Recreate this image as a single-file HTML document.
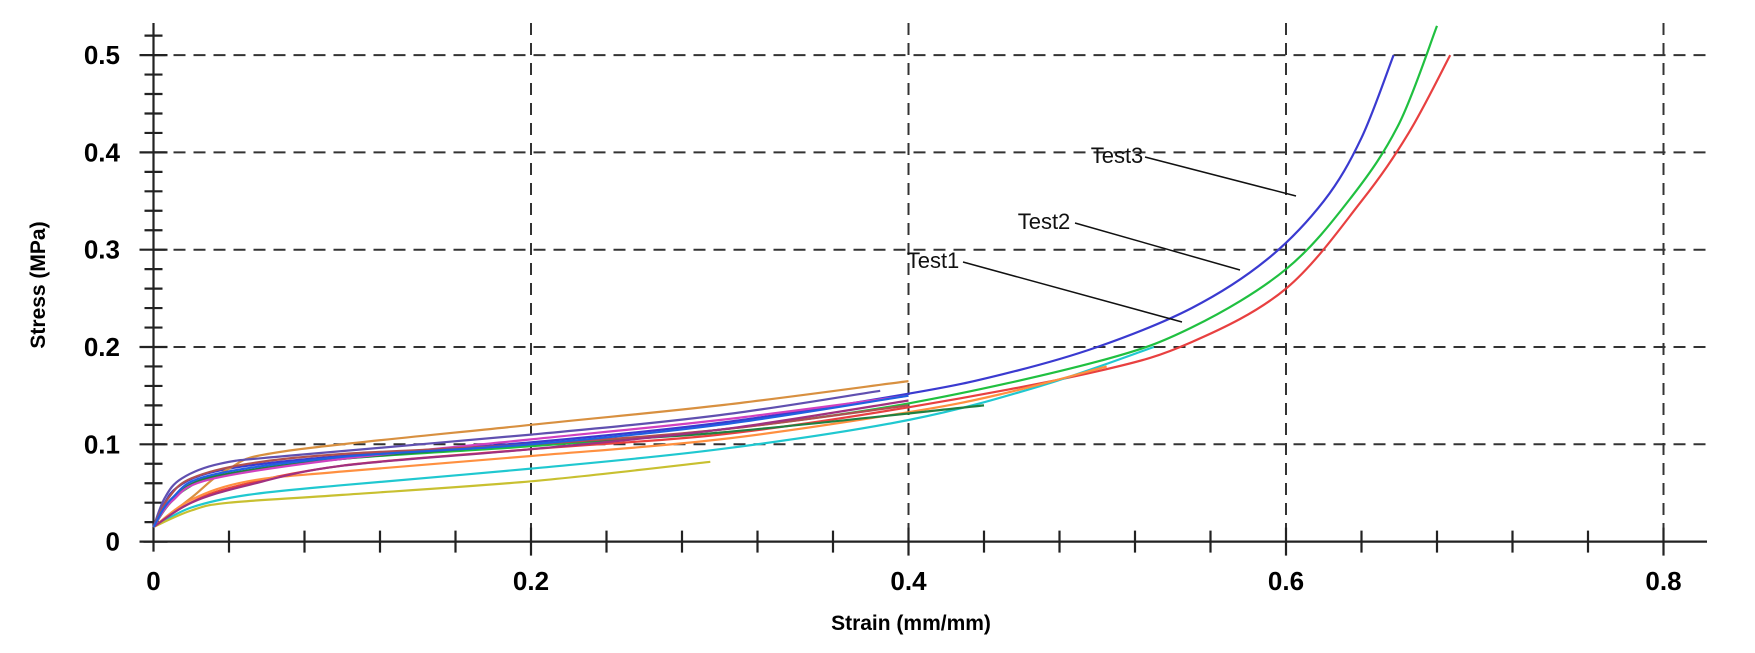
<!DOCTYPE html>
<html><head><meta charset="utf-8"><style>
html,body{margin:0;padding:0;background:#fff;}
svg{display:block;}
text{font-family:"Liberation Sans",sans-serif;}
</style></head><body>
<svg id="s" width="1755" height="653" viewBox="0 0 1755 653" xmlns="http://www.w3.org/2000/svg">
<g id="grid" stroke="#333" stroke-width="2" stroke-dasharray="12,8" fill="none"></g>
<g id="axes" stroke="#222" stroke-width="2.2" fill="none"></g>
<g id="curves" fill="none" stroke-width="2.2"></g>
<g id="labels" fill="#000"></g>
<g font-size="22" fill="#111">
<text x="1117" y="163" text-anchor="middle">Test3</text>
<text x="1044" y="229" text-anchor="middle">Test2</text>
<text x="933" y="268" text-anchor="middle">Test1</text>
</g>
<g stroke="#111" stroke-width="1.5">
<line x1="1145" y1="157" x2="1296" y2="196"/>
<line x1="1075" y1="223" x2="1240" y2="270"/>
<line x1="963" y1="262" x2="1182" y2="322"/>
</g>
<text x="911" y="630" font-size="21" font-weight="bold" text-anchor="middle">Strain (mm/mm)</text>
<text transform="translate(45,285) rotate(-90)" font-size="21" font-weight="bold" text-anchor="middle">Stress (MPa)</text>
</svg>
<script>
var X0=153.5,SX=1887.5,Y0=541.6,SY=973;
function px(e){return X0+e*SX;} function py(s){return Y0-s*SY;}
var NS="http://www.w3.org/2000/svg";
function el(p,t,a,txt){var e=document.createElementNS(NS,t);for(var k in a)e.setAttribute(k,a[k]);if(txt)e.textContent=txt;p.appendChild(e);return e;}
var g=document.getElementById('grid'),ax=document.getElementById('axes'),lb=document.getElementById('labels');
for(var i=1;i<=5;i++){var y=py(i*0.1);el(g,'line',{x1:X0,y1:y,x2:1707,y2:y});}
for(var i=1;i<=4;i++){var x=px(i*0.2);el(g,'line',{x1:x,y1:23,x2:x,y2:Y0});}
el(ax,'line',{x1:X0,y1:23,x2:X0,y2:Y0+10});
el(ax,'line',{x1:X0-10,y1:Y0,x2:1707,y2:Y0});
for(var i=0;i<=26;i++){var y=py(i*0.02);var big=(i%5==0);el(ax,'line',{x1:X0-(big?14:9),y1:y,x2:X0+(big?14:9),y2:y});}
for(var i=1;i<=20;i++){var x=px(i*0.04);var big=(i%5==0);el(ax,'line',{x1:x,y1:Y0-(big?14:11),x2:x,y2:Y0+(big?14:11)});}
var yl=['0','0.1','0.2','0.3','0.4','0.5'];
for(var i=0;i<6;i++)el(lb,'text',{x:120,y:py(i*0.1)+9,'font-size':26,'font-weight':'bold','text-anchor':'end'},yl[i]);
var xl=['0','0.2','0.4','0.6','0.8'];
for(var i=0;i<5;i++)el(lb,'text',{x:px(i*0.2),y:590,'font-size':26,'font-weight':'bold','text-anchor':'middle'},xl[i]);
var C=[
['#3a3ad0',[[0,0.015],[0.006,0.04],[0.012,0.055],[0.025,0.068],[0.05,0.078],[0.1,0.088],[0.2,0.102],[0.3,0.122],[0.4,0.152],[0.45,0.172],[0.5,0.2],[0.55,0.24],[0.59,0.29],[0.62,0.35],[0.64,0.415],[0.657,0.5]]],
['#20c040',[[0,0.015],[0.008,0.038],[0.018,0.055],[0.035,0.068],[0.1,0.085],[0.2,0.098],[0.3,0.115],[0.4,0.142],[0.5,0.185],[0.55,0.22],[0.6,0.28],[0.635,0.355],[0.66,0.43],[0.68,0.53]]],
['#e84040',[[0,0.015],[0.015,0.035],[0.04,0.055],[0.1,0.078],[0.2,0.095],[0.3,0.11],[0.4,0.138],[0.5,0.175],[0.55,0.205],[0.6,0.26],[0.64,0.35],[0.665,0.42],[0.687,0.5]]],
['#d89040',[[0,0.015],[0.02,0.045],[0.04,0.075],[0.07,0.093],[0.2,0.12],[0.3,0.14],[0.4,0.165]]],
['#20c8d0',[[0,0.015],[0.02,0.035],[0.05,0.048],[0.1,0.058],[0.2,0.075],[0.3,0.095],[0.4,0.125],[0.47,0.16],[0.53,0.2]]],
['#ff9040',[[0,0.015],[0.02,0.043],[0.05,0.062],[0.1,0.072],[0.2,0.088],[0.3,0.105],[0.4,0.133],[0.45,0.152],[0.505,0.18]]],
['#c8c030',[[0,0.015],[0.02,0.032],[0.04,0.04],[0.1,0.048],[0.2,0.062],[0.295,0.082]]],
['#208040',[[0,0.015],[0.01,0.042],[0.03,0.066],[0.1,0.085],[0.2,0.1],[0.3,0.112],[0.44,0.14]]],
['#6050b0',[[0,0.015],[0.006,0.045],[0.015,0.065],[0.035,0.08],[0.07,0.088],[0.2,0.11],[0.3,0.13],[0.385,0.155]]],
['#d040c0',[[0,0.015],[0.01,0.042],[0.03,0.064],[0.1,0.085],[0.2,0.105],[0.3,0.125],[0.4,0.15]]],
['#b05050',[[0,0.015],[0.008,0.045],[0.02,0.065],[0.05,0.08],[0.1,0.09],[0.2,0.1],[0.3,0.115],[0.4,0.14]]],
['#a03080',[[0,0.015],[0.02,0.04],[0.05,0.058],[0.1,0.078],[0.2,0.095],[0.3,0.115],[0.4,0.145]]],
['#2060e0',[[0,0.015],[0.01,0.045],[0.03,0.068],[0.1,0.087],[0.2,0.1],[0.3,0.12],[0.4,0.15]]]
];
var cg=document.getElementById('curves');
C.forEach(function(c){var p=c[1].map(function(q){return [px(q[0]),py(q[1])];});
var d='M'+p[0][0].toFixed(1)+','+p[0][1].toFixed(1);
for(var i=0;i<p.length-1;i++){var p0=p[i-1]||p[i],p1=p[i],p2=p[i+1],p3=p[i+2]||p2;
var c1=[p1[0]+(p2[0]-p0[0])/6,p1[1]+(p2[1]-p0[1])/6],c2=[p2[0]-(p3[0]-p1[0])/6,p2[1]-(p3[1]-p1[1])/6];
d+=' C'+c1[0].toFixed(1)+','+c1[1].toFixed(1)+' '+c2[0].toFixed(1)+','+c2[1].toFixed(1)+' '+p2[0].toFixed(1)+','+p2[1].toFixed(1);}
el(cg,'path',{d:d,stroke:c[0]});});
</script>
</body></html>
